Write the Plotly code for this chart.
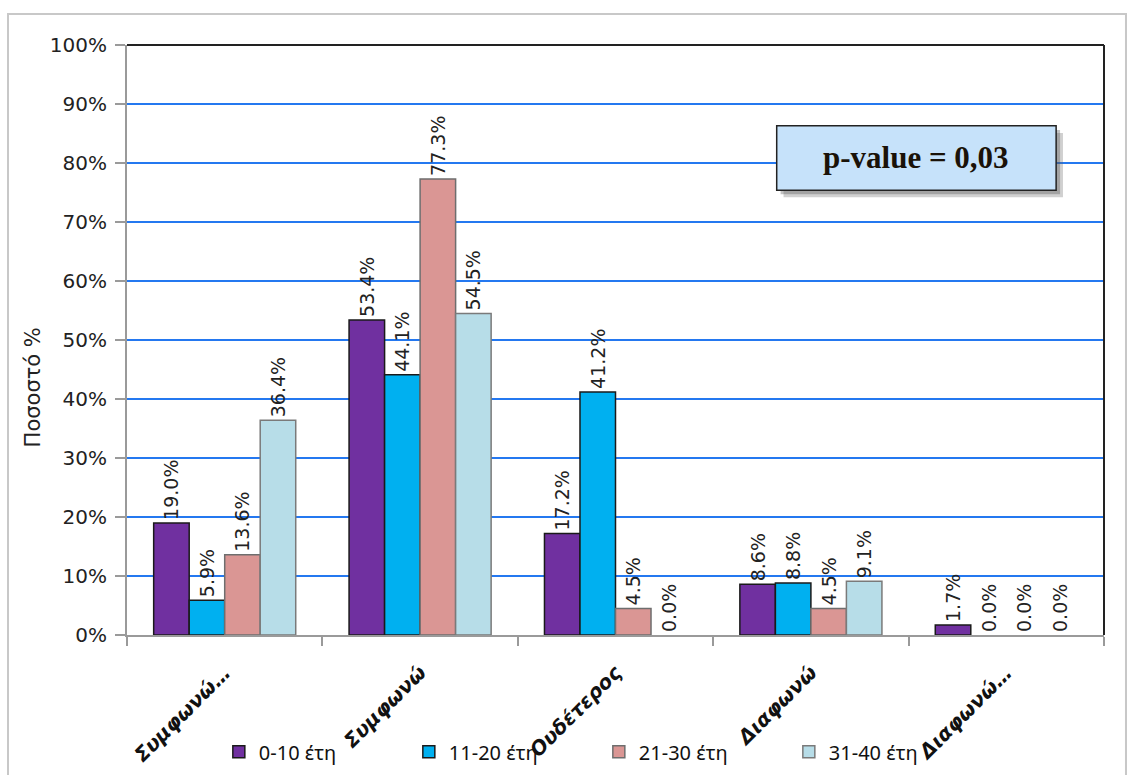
import plotly.graph_objects as go

# Response categories (x axis) and age groups (series)
categories = ["Συμφωνώ…", "Συμφωνώ", "Ουδέτερος", "Διαφωνώ", "Διαφωνώ…"]
series_names = ["0-10 έτη", "11-20 έτη", "21-30 έτη", "31-40 έτη"]
vals_0_10 = [19.0, 53.4, 17.2, 8.6, 1.7]
vals_11_20 = [5.9, 44.1, 41.2, 8.8, 0.0]
vals_21_30 = [13.6, 77.3, 4.5, 4.5, 0.0]
vals_31_40 = [36.4, 54.5, 0.0, 9.1, 0.0]
y_ticks = list(range(0, 101, 10))
y_tick_labels = [f"{t}%" for t in y_ticks]
p_value_text = "p-value = 0,03"

series_values = [vals_0_10, vals_11_20, vals_21_30, vals_31_40]
fills = ["#7030A0", "#00B0F0", "#DA9694", "#B7DDE8"]
edges = ["#1a1a1a", "#1a1a1a", "#6e6e6e", "#7a7a7a"]

fig = go.Figure()
for name, vals, fc, ec in zip(series_names, series_values, fills, edges):
    fig.add_trace(go.Bar(
        x=categories, y=vals, name=name,
        # empty bars get no outline
        marker=dict(color=fc, line=dict(color=ec, width=[1.5 if v > 0 else 0 for v in vals])),
        text=[f"{v:.1f}%" for v in vals],
        textposition="outside", textangle=-90, constraintext="none",
        textfont=dict(family="DejaVu Sans", size=19, color="#222222"),
        cliponaxis=False,
    ))

fig.update_layout(
    width=1128, height=775,
    margin=dict(l=127, r=24, t=45, b=140, autoexpand=False),
    paper_bgcolor="white", plot_bgcolor="white",
    barmode="group", bargap=0.273, bargroupgap=0,
    showlegend=True,
    legend=dict(
        orientation="h", x=0.094, y=-0.198, xanchor="left", yanchor="middle",
        font=dict(family="Noto Sans", size=20, color="#111111"),
        bgcolor="rgba(0,0,0,0)",
        entrywidth=145, entrywidthmode="pixels",
    ),
    font=dict(family="DejaVu Sans", color="#222222"),
)

fig.update_yaxes(
    range=[0, 100], tickvals=y_ticks, ticktext=y_tick_labels,
    tickfont=dict(family="DejaVu Sans", size=20, color="#222222"),
    ticklabelstandoff=4,
    showgrid=True, gridcolor="#2478F0", gridwidth=1.5,
    showline=True, linecolor="#9a9a9a", linewidth=2,
    ticks="outside", ticklen=10, tickcolor="#9a9a9a", tickwidth=1.5,
    zeroline=False,
)
fig.update_xaxes(
    tickangle=-45, ticklabelstandoff=16,
    tickfont=dict(family="DejaVu Sans", size=20, color="#111111", weight="bold", style="italic"),
    showline=True, linecolor="#9a9a9a", linewidth=2,
    ticks="outside", tickson="boundaries", ticklen=9, tickcolor="#9a9a9a", tickwidth=1.5,
    showgrid=False,
)

# Plot-area frame on top and right
fig.add_shape(type="line", xref="paper", yref="paper", x0=0, x1=1, y0=1, y1=1,
              line=dict(color="#222222", width=2))
fig.add_shape(type="line", xref="paper", yref="paper", x0=1, x1=1, y0=0, y1=1,
              line=dict(color="#222222", width=2))

# Outer chart border
fig.add_shape(type="rect", xref="paper", yref="paper",
              x0=-0.1218, x1=1.0225, y0=-0.26, y1=1.0525,
              line=dict(color="#c8c8c8", width=2), fillcolor="rgba(0,0,0,0)", layer="below")

# p-value box with drop shadow
bx0, bx1, by0, by1 = 0.665, 0.951, 0.754, 0.863
fig.add_shape(type="rect", xref="paper", yref="paper",
              x0=bx0 + 0.007, x1=bx1 + 0.007, y0=by0 - 0.012, y1=by1 - 0.012,
              line=dict(width=0), fillcolor="rgba(100,100,100,0.3)")
fig.add_shape(type="rect", xref="paper", yref="paper",
              x0=bx0 + 0.004, x1=bx1 + 0.004, y0=by0 - 0.007, y1=by1 - 0.007,
              line=dict(width=0), fillcolor="rgba(80,80,80,0.35)")
fig.add_shape(type="rect", xref="paper", yref="paper",
              x0=bx0, x1=bx1, y0=by0, y1=by1,
              line=dict(color="#222222", width=1.5), fillcolor="#C6E2FA")
fig.add_annotation(xref="paper", yref="paper", x=(bx0 + bx1) / 2, y=(by0 + by1) / 2,
                   xanchor="center", yanchor="middle",
                   text=p_value_text, showarrow=False,
                   font=dict(family="Liberation Serif", size=31, color="#1a1208", weight="bold"))

# Y axis title
fig.add_annotation(xref="paper", yref="paper", x=-0.096, y=0.42,
                   xanchor="center", yanchor="middle",
                   text="Ποσοστό %", textangle=-90, showarrow=False,
                   font=dict(family="DejaVu Sans", size=21, color="#222222"))

fig.write_html("out.html")
